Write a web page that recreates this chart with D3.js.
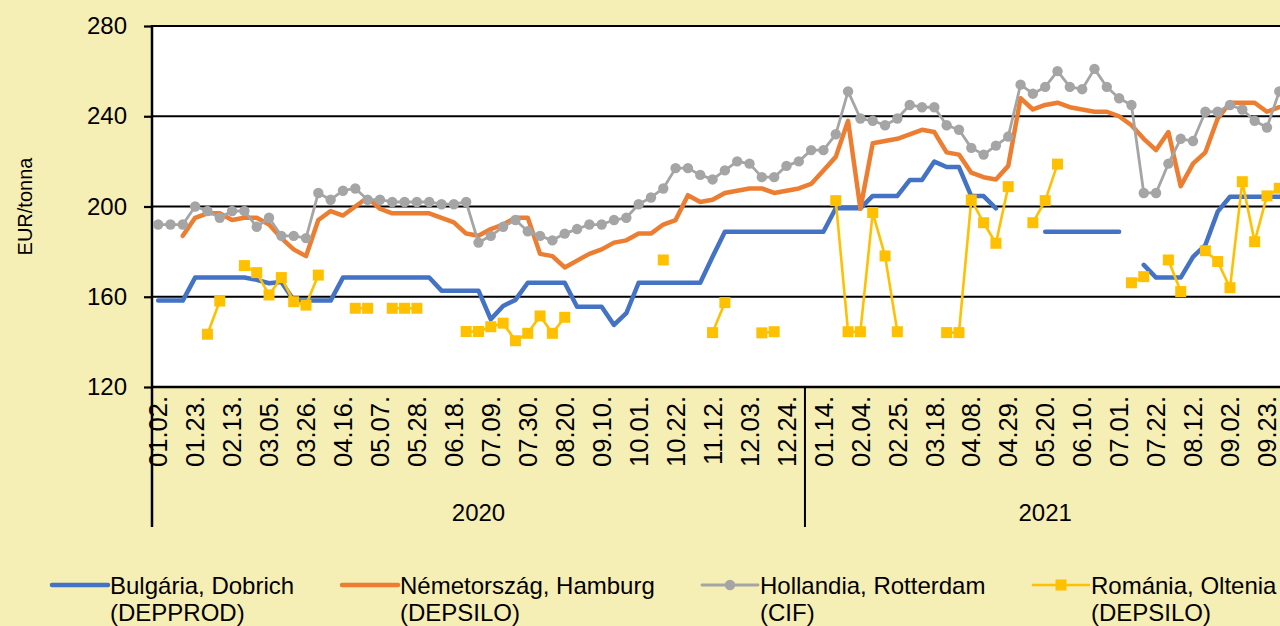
<!DOCTYPE html>
<html>
<head>
<meta charset="utf-8">
<script src="https://cdn.jsdelivr.net/npm/d3@7"></script>
<style>
    html, body { margin: 0; padding: 0; background: #F5EEB5; }
    svg { display: block; font-family: "Liberation Sans", Arial, sans-serif; }
</style>
</head>
<body>
<div id="chart-container"></div>
<script>
// weekly prices, EUR/tonna, 2020.01.02 - 2021.09.30 (null = no quote)
const tickLabels = ['01.02.', '01.23.', '02.13.', '03.05.', '03.26.', '04.16.', '05.07.', '05.28.', '06.18.', '07.09.',
    '07.30.', '08.20.', '09.10.', '10.01.', '10.22.', '11.12.', '12.03.', '12.24.', '01.14.', '02.04.', '02.25.',
    '03.18.', '04.08.', '04.29.', '05.20.', '06.10.', '07.01.', '07.22.', '08.12.', '09.02.', '09.23.'];

const years = ['2020', '2021'];
const weeksPerYear = [53, 39];

const bulgaria = [
    158.3, 158.3, 158.3, 168.5, 168.5, 168.5, 168.5, 168.5, 167.5, 166,
    166.5, 158.5, 158.3, 158.3, 158.3, 168.5, 168.5, 168.5, 168.5, 168.5,
    168.5, 168.5, 168.5, 162.7, 162.7, 162.7, 162.7, 150, 155.9, 158.6,
    166.2, 166.2, 166.2, 166.2, 155.6, 155.6, 155.6, 147.5, 152.7, 166.2,
    166.2, 166.2, 166.2, 166.2, 166.2, 177.7, 188.8, 188.8, 188.8, 188.8,
    188.8, 188.8, 188.8, 188.8, 188.8, 199.2, 199.2, 199.2, 204.7, 204.7,
    204.7, 211.7, 211.7, 219.9, 217.5, 217.5, 204.6, 204.6, 199.2, null,
    null, null, 188.8, 188.8, 188.8, 188.8, 188.8, 188.8, 188.8, null,
    174.1, 168.5, 168.5, 168.5, 177.7, 182.9, 197.7, 204.3, 204.3, 204.3,
    204.3, 204.3
];

const nemetorszag = [
    null, null, 187, 195, 197, 197, 194, 195, 195, 192,
    186, 181, 178, 194, 198, 196, 200, 204, 199, 197,
    197, 197, 197, 195, 193, 188, 187, 190, 192, 195,
    195, 179, 178, 173, 176, 179, 181, 184, 185, 188,
    188, 192, 194, 205, 202, 203, 206, 207, 208, 208,
    206, 207, 208, 210, 216, 222, 238, 199, 228, 229,
    230, 232, 234, 233, 224, 223, 215, 213, 212, 218,
    248, 243, 245, 246, 244, 243, 242, 242, 240, 236,
    230, 225, 233, 209, 219, 224, 239, 246, 246, 246,
    242, 244
];

const hollandia = [
    192, 192, 192, 200, 198, 195, 198, 198, 191, 195,
    187, 187, 186, 206, 203, 207, 208, 203, 203, 202,
    202, 202, 202, 201, 201, 202, 184, 187, 191, 194,
    189, 187, 185, 188, 190, 192, 192, 194, 195, 201,
    204, 208, 217, 217, 214, 212, 216, 220, 219, 213,
    213, 218, 220, 225, 225, 232, 251, 239, 238, 236,
    239, 245, 244, 244, 236, 234, 226, 223, 227, 231,
    254, 250, 253, 260, 253, 252, 261, 253, 248, 245,
    206, 206, 219, 230, 229, 242, 242, 245, 243, 238,
    235, 251
];

const romania = [
    null, null, null, null, 143.4, 158.1, null, 173.8, 170.7, 160.8,
    168.5, 157.8, 156.3, 169.6, null, null, 154.9, 154.9, null, 154.9,
    154.9, 154.9, null, null, null, 144.6, 144.6, 146.7, 148.3, 140.5,
    143.8, 151.5, 143.8, 150.9, null, null, null, null, null, null,
    null, 176.3, null, null, null, 144.1, 157.4, null, null, 144,
    144.5, null, null, null, null, 202.6, 144.5, 144.5, 197.3, 178.1,
    144.5, null, null, null, 144.1, 144.1, 202.9, 192.8, 183.7, 208.8,
    null, 192.8, 202.6, 218.8, null, null, null, null, null, 166.2,
    168.9, null, 176.3, 162.3, null, 180.4, 175.6, 164, 211, 184.4,
    204.7, 208.1
];

const yTicks = [120, 160, 200, 240, 280];

const series = [
    {name: ['Bulgária, Dobrich', '(DEPPROD)'], values: bulgaria, color: '#4472C4', width: 4.5, marker: null},
    {name: ['Németország, Hamburg', '(DEPSILO)'], values: nemetorszag, color: '#ED7D31', width: 4.5, marker: null},
    {name: ['Hollandia, Rotterdam', '(CIF)'], values: hollandia, color: '#A5A5A5', width: 2.8, marker: 'circle'},
    {name: ['Románia, Oltenia', '(DEPSILO)'], values: romania, color: '#FFC000', width: 2.6, marker: 'square'}
];

const createChart = (placeholder) => {
    const svgWidth = 1280, svgHeight = 626;
    const plot = {left: 152, top: 26, bottom: 387, step: 12.32};
    const nWeeks = d3.sum(weeksPerYear);
    const plotRight = plot.left + nWeeks * plot.step;
    const fontSize = 24;

    const svg = d3.select(placeholder).append('svg')
        .attr('width', svgWidth)
        .attr('height', svgHeight);

    svg.append('rect')
        .attr('width', svgWidth).attr('height', svgHeight)
        .attr('fill', '#F5EEB5');

    const xScale = d3.scaleBand()
        .domain(d3.range(nWeeks))
        .range([plot.left, plotRight])
        .padding(0);
    const cx = i => xScale(i) + xScale.bandwidth() / 2;

    const yScale = d3.scaleLinear()
        .domain([120, 280])
        .range([plot.bottom, plot.top]);

    // plot area
    svg.append('rect')
        .attr('x', plot.left).attr('y', plot.top)
        .attr('width', plotRight - plot.left).attr('height', plot.bottom - plot.top)
        .attr('fill', '#ffffff');

    // gridlines
    svg.append('g')
        .selectAll('line')
        .data(yTicks)
        .enter()
        .append('line')
        .attr('x1', plot.left).attr('x2', plotRight)
        .attr('y1', d => yScale(d)).attr('y2', d => yScale(d))
        .style('stroke', '#000')
        .style('stroke-width', 2.2);

    // y axis
    const yAxis = d3.axisLeft(yScale).tickValues(yTicks).tickSize(8).tickPadding(17);
    const gy = svg.append('g')
        .attr('transform', `translate(${plot.left},0)`)
        .call(yAxis);
    gy.select('.domain').remove();
    gy.selectAll('.tick line').style('stroke', '#000').style('stroke-width', 2.2);
    gy.selectAll('.tick text')
        .style('font-size', fontSize + 'px')
        .style('font-family', '"Liberation Sans", Arial, sans-serif')
        .style('fill', '#000');

    svg.append('line')
        .attr('x1', plot.left).attr('x2', plot.left)
        .attr('y1', plot.top - 1).attr('y2', 527)
        .style('stroke', '#000').style('stroke-width', 2.5);

    svg.append('text')
        .text('EUR/tonna')
        .attr('transform', `translate(25,${(plot.top + plot.bottom) / 2}) rotate(-90)`)
        .attr('text-anchor', 'middle')
        .attr('dy', '0.35em')
        .style('font-size', '20px')
        .style('fill', '#000');

    // week labels, every third week
    svg.append('g')
        .selectAll('text')
        .data(tickLabels)
        .enter()
        .append('text')
        .text(d => d)
        .attr('transform', (d, k) => `translate(${cx(k * 3)},396) rotate(-90)`)
        .attr('text-anchor', 'end')
        .attr('dy', '0.36em')
        .style('font-size', '25.5px')
        .style('fill', '#000');

    // year groups
    const yearStarts = d3.cumsum([0].concat(weeksPerYear));
    years.forEach((yr, k) => {
        const x0 = xScale(yearStarts[k]);
        const x1 = k === years.length - 1 ? plotRight : xScale(yearStarts[k + 1]);
        svg.append('text')
            .text(yr)
            .attr('x', (x0 + x1) / 2)
            .attr('y', 521)
            .attr('text-anchor', 'middle')
            .style('font-size', fontSize + 'px')
            .style('fill', '#000');
        svg.append('line')
            .attr('x1', x1).attr('x2', x1)
            .attr('y1', plot.bottom).attr('y2', 527)
            .style('stroke', '#000').style('stroke-width', 2);
    });

    // series
    const line = d3.line()
        .defined(d => d.v != null)
        .x(d => cx(d.i))
        .y(d => yScale(d.v));

    series.forEach(s => {
        const pts = s.values.map((v, i) => ({i, v}));
        const g = svg.append('g');
        g.append('path')
            .attr('d', line(pts))
            .style('fill', 'none')
            .style('stroke', s.color)
            .style('stroke-width', s.width)
            .style('stroke-linejoin', 'round')
            .style('stroke-linecap', 'round');

        const defined = pts.filter(d => d.v != null);
        if (s.marker === 'circle') {
            g.selectAll('circle')
                .data(defined)
                .enter()
                .append('circle')
                .attr('cx', d => cx(d.i))
                .attr('cy', d => yScale(d.v))
                .attr('r', 5.2)
                .style('fill', s.color);
        } else if (s.marker === 'square') {
            g.selectAll('rect')
                .data(defined)
                .enter()
                .append('rect')
                .attr('x', d => cx(d.i) - 5.5)
                .attr('y', d => yScale(d.v) - 5.5)
                .attr('width', 11)
                .attr('height', 11)
                .style('fill', s.color);
        }
    });

    // plot frame on top
    svg.append('line')
        .attr('x1', plot.left).attr('x2', plotRight)
        .attr('y1', plot.bottom).attr('y2', plot.bottom)
        .style('stroke', '#000').style('stroke-width', 2.5);

    // legend
    const legendX = [52, 342, 702, 1033];
    const legend = svg.append('g')
        .selectAll('g')
        .data(series)
        .enter()
        .append('g')
        .attr('transform', (d, k) => `translate(${legendX[k]},585)`);

    legend.append('line')
        .attr('x1', 0).attr('x2', 56)
        .style('stroke', d => d.color)
        .style('stroke-width', d => d.width)
        .style('stroke-linecap', 'round');

    legend.filter(d => d.marker === 'circle')
        .append('circle')
        .attr('cx', 28).attr('r', 5.2)
        .style('fill', d => d.color);

    legend.filter(d => d.marker === 'square')
        .append('rect')
        .attr('x', 22.5).attr('y', -5.5).attr('width', 11).attr('height', 11)
        .style('fill', d => d.color);

    legend.append('text')
        .attr('x', 58)
        .attr('y', 8.5)
        .style('font-size', fontSize + 'px')
        .style('fill', '#000')
        .selectAll('tspan')
        .data(d => d.name)
        .enter()
        .append('tspan')
        .attr('x', 58)
        .attr('dy', (d, k) => k === 0 ? 0 : 27)
        .text(d => d);
};

createChart(document.getElementById('chart-container'));
</script>
</body>
</html>
